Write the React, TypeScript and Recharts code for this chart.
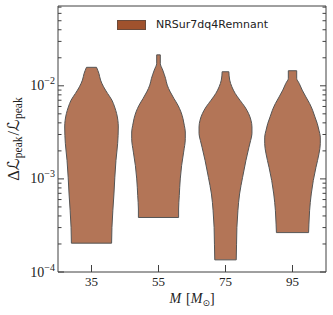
import React from 'react';
import { ComposedChart, Area, XAxis, YAxis, ReferenceArea, ReferenceLine, Legend } from 'recharts';

const masses = [35, 55, 75, 95];
const seriesName = 'NRSur7dq4Remnant';

// violin outlines, listed top to bottom: level (dL/L) and half width in units of M
const levels35 = [0.0158, 0.01361, 0.01153, 0.00976, 0.00828, 0.00701, 0.00593, 0.00503, 0.00361, 0.00239, 0.00158, 0.000689, 0.0003, 0.000204];
const widths35 = [1.5, 2.2, 2.7, 3.6, 4.8, 6.1, 6.9, 7.5, 8.0, 7.8, 7.3, 6.7, 6.1, 6.0];

const levels55 = [0.0215, 0.01746, 0.01479, 0.01202, 0.01018, 0.00861, 0.00731, 0.00619, 0.00524, 0.00445, 0.00377, 0.00319, 0.0027, 0.00194, 0.00139, 0.001, 0.000661, 0.000475, 0.000385];
const widths55 = [0.54, 0.54, 1.25, 2.1, 2.6, 3.5, 4.6, 5.8, 6.7, 7.3, 7.7, 8.0, 8.0, 7.5, 6.9, 6.5, 6.2, 6.0, 6.0];

const levels75 = [0.01416, 0.01153, 0.00976, 0.00828, 0.00701, 0.00593, 0.00503, 0.00427, 0.00361, 0.00306, 0.00259, 0.00219, 0.00158, 0.00104, 0.000689, 0.000455, 0.0003, 0.000199, 0.000135];
const widths75 = [1.0, 1.25, 1.9, 2.9, 4.3, 5.8, 6.9, 7.6, 7.9, 7.9, 7.5, 7.0, 6.1, 5.1, 4.2, 3.7, 3.4, 3.3, 3.2];

const levels95 = [0.01452, 0.01202, 0.01062, 0.00899, 0.0076, 0.00646, 0.00547, 0.00463, 0.00393, 0.00333, 0.00281, 0.00239, 0.00186, 0.00133, 0.000959, 0.000689, 0.000455, 0.000327, 0.000265];
const widths95 = [1.25, 1.25, 2.0, 2.9, 4.0, 5.1, 6.0, 6.7, 7.4, 7.9, 8.3, 8.3, 7.9, 7.0, 6.2, 5.6, 5.1, 4.9, 4.8];

const xDomain = [25, 105];
const yDomain = [1e-4, 0.072];
const yTicks = [
  1e-4, 2e-4, 3e-4, 4e-4, 5e-4, 6e-4, 7e-4, 8e-4, 9e-4,
  1e-3, 2e-3, 3e-3, 4e-3, 5e-3, 6e-3, 7e-3, 8e-3, 9e-3,
  1e-2, 2e-2, 3e-2, 4e-2, 5e-2, 6e-2, 7e-2,
];
const yMajor = [1e-4, 1e-3, 1e-2];
const yExponents = ['−4', '−3', '−2'];

const levels = [levels35, levels55, levels75, levels95];
const widths = [widths35, widths55, widths75, widths95];

const violins = masses.map((m, i) => ({
  mass: m,
  data: levels[i].map((y, j) => ({ y, span: [m - widths[i][j], m + widths[i][j]] })),
}));

const FILL = '#A0522D';
const EDGE = '#555555';
const AXIS = '#404040';
const PLOT_W = 268;
const SERIF = '"Liberation Serif", "DejaVu Serif", serif';

function YTick(props: any) {
  const { x, y, payload } = props;
  const k = yMajor.findIndex((v) => Math.abs(v - payload.value) < payload.value * 1e-6);
  const len = k >= 0 ? 6 : 3.5;
  return (
    <g>
      <line x1={x} x2={x + len} y1={y} y2={y} stroke={AXIS} strokeWidth={1} />
      <line x1={x + PLOT_W} x2={x + PLOT_W - len} y1={y} y2={y} stroke={AXIS} strokeWidth={1} />
      {k >= 0 && (
        <text x={x - 3} y={y + 4.5} textAnchor="end" fontFamily={SERIF} fontSize={14} fill="#222">
          10
          <tspan dy={-6} fontSize={10}>{yExponents[k]}</tspan>
        </text>
      )}
    </g>
  );
}

function XTick(props: any) {
  const { x, y, payload } = props;
  return (
    <g>
      <line x1={x} x2={x} y1={y} y2={y - 7} stroke={AXIS} strokeWidth={1} />
      <text x={x} y={y + 14} textAnchor="middle" fontFamily={SERIF} fontSize={13} fill="#222">
        {payload.value}
      </text>
    </g>
  );
}

function YLabel(props: any) {
  const { viewBox } = props;
  const x = viewBox.x + 19;
  const y = viewBox.y + viewBox.height / 2;
  return (
    <text x={x} y={y} transform={`rotate(-90, ${x}, ${y})`} textAnchor="middle" fontFamily={SERIF} fontSize={16.5} fill="#222">
      Δ<tspan fontFamily="DejaVu Sans">ℒ</tspan>
      <tspan fontSize={11.5} dy={3}>peak</tspan>
      <tspan dy={-3} dx={1}>/</tspan>
      <tspan fontFamily="DejaVu Sans">ℒ</tspan>
      <tspan fontSize={11.5} dy={3}>peak</tspan>
    </text>
  );
}

function XLabel(props: any) {
  const { viewBox } = props;
  const x = viewBox.x + viewBox.width / 2;
  const y = viewBox.y + 31;
  return (
    <text x={x} y={y} textAnchor="middle" fontFamily={SERIF} fontSize={14} fill="#222">
      <tspan fontStyle="italic">M</tspan>
      <tspan dx={5}>[</tspan>
      <tspan fontStyle="italic">M</tspan>
      <tspan fontSize={9} dy={3} fontFamily="DejaVu Sans">⊙</tspan>
      <tspan dy={-3}>]</tspan>
    </text>
  );
}

function LegendBox() {
  return (
    <div style={{ display: 'flex', alignItems: 'center', fontFamily: '"DejaVu Sans", sans-serif', fontSize: 11, color: '#222', lineHeight: '13px' }}>
      <span style={{ display: 'inline-block', width: 27, height: 8, background: FILL, border: '0.5px solid #6b4a3a', marginRight: 10 }} />
      <span>{seriesName}</span>
    </div>
  );
}

export default function App() {
  return (
    <div style={{ position: 'absolute', left: 0, top: 0, background: '#fff' }}>
      <ComposedChart width={333} height={315} layout="vertical" margin={{ top: 6, right: 7, left: 0, bottom: 0 }}>
        <XAxis
          type="number"
          dataKey="span"
          domain={xDomain}
          allowDataOverflow
          ticks={masses}
          interval={0}
          tick={<XTick />}
          tickLine={false}
          tickSize={0}
          tickMargin={0}
          axisLine={false}
          height={43}
          label={{ content: <XLabel /> }}
        />
        <YAxis
          type="number"
          dataKey="y"
          scale="log"
          reversed
          domain={yDomain}
          allowDataOverflow
          ticks={yTicks}
          interval={0}
          tick={<YTick />}
          tickLine={false}
          tickSize={0}
          tickMargin={0}
          axisLine={false}
          width={58}
          label={{ content: <YLabel /> }}
        />
        <Legend
          verticalAlign="middle"
          align="center"
          layout="horizontal"
          wrapperStyle={{ top: 18, left: 117, width: 'auto', height: 'auto' }}
          content={<LegendBox />}
        />
        {violins.map((v) => (
          <Area
            key={v.mass}
            data={v.data}
            dataKey="span"
            name={seriesName}
            type="monotone"
            fill={FILL}
            fillOpacity={0.8}
            stroke={EDGE}
            strokeWidth={1}
            dot={false}
            activeDot={false}
            isAnimationActive={false}
          />
        ))}
        {violins.map((v) => {
          const top = v.data[0];
          const bot = v.data[v.data.length - 1];
          return [top, bot].map((p, j) => (
            <ReferenceLine
              key={`${v.mass}-${j}`}
              segment={[{ x: p.span[0], y: p.y }, { x: p.span[1], y: p.y }]}
              stroke={EDGE}
              strokeWidth={1}
            />
          ));
        })}
        <ReferenceArea x1={xDomain[0]} x2={xDomain[1]} y1={yDomain[0]} y2={yDomain[1]} fill="none" stroke={AXIS} strokeWidth={1} />
      </ComposedChart>
    </div>
  );
}
